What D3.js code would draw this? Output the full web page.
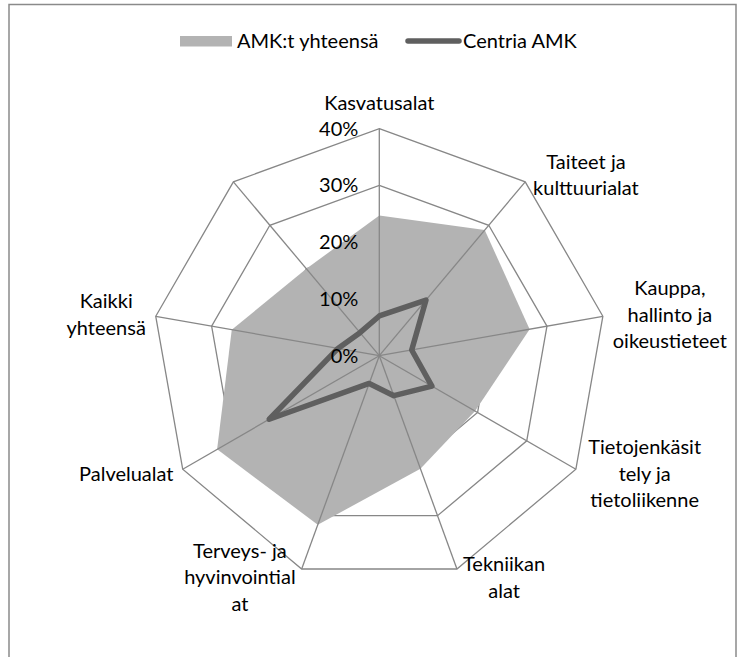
<!DOCTYPE html>
<html>
<head>
<meta charset="utf-8">
<script src="https://cdn.jsdelivr.net/npm/d3@7"></script>
<style>
  body { margin: 0; background: #fff; }
  svg { display: block; }
  text { font-family: Lato, 'Open Sans', sans-serif; fill: #000; }
</style>
</head>
<body>
<svg id="chart"></svg>
<script>
// categories clockwise from the top, the last spoke has no name in the original
var categories = [
  ["Kasvatusalat"],
  ["Taiteet ja", "kulttuurialat"],
  ["Kauppa,", "hallinto ja", "oikeustieteet"],
  ["Tietojenkäsit", "tely ja", "tietoliikenne"],
  ["Tekniikan", "alat"],
  ["Terveys- ja", "hyvinvointial", "at"],
  ["Palvelualat"],
  ["Kaikki", "yhteensä"],
  []
];
var seriesNames = ["AMK:t yhteensä", "Centria AMK"];
var amkValues     = [0.247, 0.289, 0.269, 0.195, 0.212, 0.317, 0.330, 0.264, 0.200];
var centriaValues = [0.070, 0.128, 0.058, 0.107, 0.075, 0.052, 0.224, 0.074, 0.053];
var ticks = [0, 0.1, 0.2, 0.3, 0.4];

var width = 737, height = 657;
var cx = 379.3, cy = 355.7, R = 227;
var fontSize = 20;
var step = 2 * Math.PI / categories.length;

var svg = d3.select("#chart").attr("width", width).attr("height", height);

// outer frame
svg.append("rect")
  .attr("x", 9).attr("y", 4.5).attr("width", 727).attr("height", 700)
  .attr("fill", "none").attr("stroke", "#8a8a8a").attr("stroke-width", 1.5);

var r = d3.scaleLinear().domain([0, 0.4]).range([0, R]);
var g = svg.append("g").attr("transform", "translate(" + cx + "," + cy + ")");

var radial = d3.lineRadial()
  .angle(function(d, i) { return i * step; })
  .radius(function(d) { return r(d); })
  .curve(d3.curveLinearClosed);

// rings sit under the gray area
g.selectAll("path.ring")
  .data(ticks.slice(1))
  .enter().append("path")
  .attr("class", "ring")
  .attr("d", function(t) { return radial(categories.map(function() { return t; })); })
  .attr("fill", "none")
  .attr("stroke", "#878787")
  .attr("stroke-width", 1.3);

g.append("path")
  .datum(amkValues)
  .attr("d", radial)
  .attr("fill", "#b3b3b3");

// spokes go over it
g.selectAll("line.spoke")
  .data(categories)
  .enter().append("line")
  .attr("class", "spoke")
  .attr("x1", 0).attr("y1", 0)
  .attr("x2", function(d, i) { return r(0.4) * Math.sin(i * step); })
  .attr("y2", function(d, i) { return -r(0.4) * Math.cos(i * step); })
  .attr("stroke", "#878787")
  .attr("stroke-width", 1.3);

// Centria line
g.append("path")
  .datum(centriaValues)
  .attr("d", radial)
  .attr("fill", "none")
  .attr("stroke", "#5f5f5f")
  .attr("stroke-width", 5.5)
  .attr("stroke-linejoin", "round");

// tick labels along the top spoke
g.selectAll("text.tick")
  .data(ticks)
  .enter().append("text")
  .attr("class", "tick")
  .attr("x", -21)
  .attr("y", function(t) { return -r(t); })
  .attr("dy", "0.35em")
  .attr("text-anchor", "end")
  .style("font-size", fontSize + "px")
  .text(d3.format(".0%"));

// category labels
var lineH = 26.5;
categories.forEach(function(lines, i) {
  if (!lines.length) return;
  var a = i * step, s = Math.sin(a), c = Math.cos(a);
  var vx = r(0.4) * s, vy = -r(0.4) * c;
  var lab = g.append("text").attr("text-anchor", "middle").style("font-size", fontSize + "px");
  lines.forEach(function(t) { lab.append("tspan").text(t); });
  var w = d3.max(lab.selectAll("tspan").nodes(), function(n) { return n.getComputedTextLength(); });
  var pad = 4 + 6 * Math.abs(s);
  var x = Math.abs(s) < 0.05 ? vx : (s > 0 ? vx + pad + w / 2 : vx - pad - w / 2);
  var yc = Math.abs(s) < 0.05 ? vy - 26 : vy - 9 * c;
  var y0 = yc - (lines.length - 1) * lineH / 2;
  lab.selectAll("tspan")
    .attr("x", x)
    .attr("y", function(d, j) { return y0 + j * lineH; })
    .attr("dy", "0.35em");
});

// legend
var leg = svg.append("g");
leg.append("rect")
  .attr("x", 180).attr("y", 36).attr("width", 52).attr("height", 10.5)
  .attr("fill", "#b3b3b3");
leg.append("text")
  .attr("x", 237).attr("y", 41).attr("dy", "0.35em")
  .style("font-size", fontSize + "px")
  .text(seriesNames[0]);
leg.append("line")
  .attr("x1", 408).attr("x2", 459).attr("y1", 41).attr("y2", 41)
  .attr("stroke", "#5f5f5f").attr("stroke-width", 5.5).attr("stroke-linecap", "round");
leg.append("text")
  .attr("x", 463).attr("y", 41).attr("dy", "0.35em")
  .style("font-size", fontSize + "px")
  .text(seriesNames[1]);
</script>
</body>
</html>
